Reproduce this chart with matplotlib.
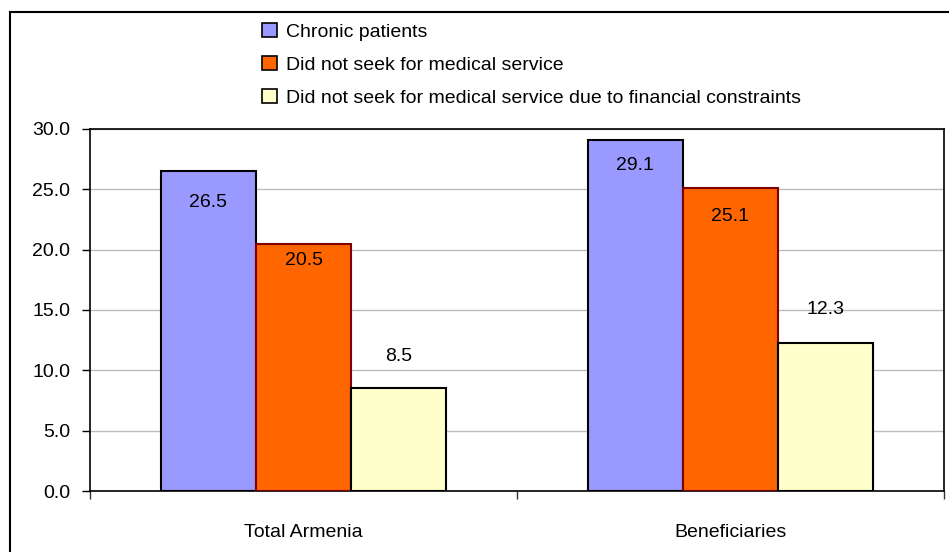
import matplotlib
matplotlib.use("Agg")
import matplotlib.pyplot as plt
from matplotlib import font_manager
from matplotlib.patches import Patch
from matplotlib.lines import Line2D
import numpy as np

categories = ["Total Armenia", "Beneficiaries"]
series_names = [
    "Chronic patients",
    "Did not seek for medical service",
    "Did not seek for medical service due to financial constraints",
]
chronic = [26.5, 29.1]
did_not_seek = [20.5, 25.1]
financial = [8.5, 12.3]
yticks = [0.0, 5.0, 10.0, 15.0, 20.0, 25.0, 30.0]

colors = ["#9999FF", "#FF6600", "#FFFFCC"]
edges = ["#000000", "#800000", "#000000"]
# label offsets in pixels (negative = inside bar below top)
label_offsets = [[-31, -26], [-17, -28], [32, 33]]

names = {f.name for f in font_manager.fontManager.ttflist}
family = "Liberation Sans Narrow" if "Liberation Sans Narrow" in names else "Liberation Sans"
plt.rcParams["font.family"] = [family, "DejaVu Sans"]

W, H = 949, 552
fig = plt.figure(figsize=(W / 100, H / 100), dpi=100)
ax = fig.add_axes([90 / W, (H - 491) / H, 854 / W, 362 / H])

x = np.arange(len(categories))
bw = 0.223
series = [chronic, did_not_seek, financial]
px2pt = 0.72
for i, (vals, c, e) in enumerate(zip(series, colors, edges)):
    xs = x + (i - 1) * bw
    ax.bar(xs, vals, width=bw, color=c, edgecolor=e, linewidth=1.5, zorder=3)
    for xi, v, off in zip(xs, vals, label_offsets[i]):
        ax.annotate(f"{v:.1f}", (xi, v), xytext=(0, off * px2pt), textcoords="offset points",
                    ha="center", va="center", fontsize=14, color="#000000", zorder=4)

ax.set_xlim(-0.5, 1.5)
ax.set_ylim(0, 30)
ax.set_yticks(yticks)
ax.set_yticklabels([f"{t:.1f}" for t in yticks], fontsize=14)
ax.yaxis.grid(True, color="#bdbdbd", linewidth=1, zorder=0)
ax.tick_params(axis="y", direction="out", length=8 * px2pt, width=1, pad=12 * px2pt, colors="#000000")

ax.set_xticks([-0.5, 0.5, 1.5])
ax.set_xticklabels(["", "", ""])
ax.set_xticks(x, minor=True)
ax.set_xticklabels(categories, minor=True, fontsize=14)
ax.tick_params(axis="x", which="major", direction="out", length=8 * px2pt, width=1, color="#333333")
ax.tick_params(axis="x", which="minor", length=0, pad=33 * px2pt)

for s in ax.spines.values():
    s.set_color("#000000")
    s.set_linewidth(1.2)

# figure border (top and left visible)
fig.add_artist(Line2D([10 / W, 10 / W], [0, 1 - 12 / H], transform=fig.transFigure, color="#000000", lw=1.5))
fig.add_artist(Line2D([10 / W, 1], [1 - 12 / H, 1 - 12 / H], transform=fig.transFigure, color="#000000", lw=1.5))

handles = [Patch(facecolor=c, edgecolor="#000000", linewidth=1.2) for c in colors]
fig.legend(handles, series_names, loc="upper left", bbox_to_anchor=(262 / W, 1 - 23 / H),
           frameon=False, fontsize=14, handlelength=0.75, handleheight=0.75, handletextpad=0.5,
           labelspacing=0.78, borderaxespad=0, borderpad=0)

fig.savefig("out.png", dpi=100)
